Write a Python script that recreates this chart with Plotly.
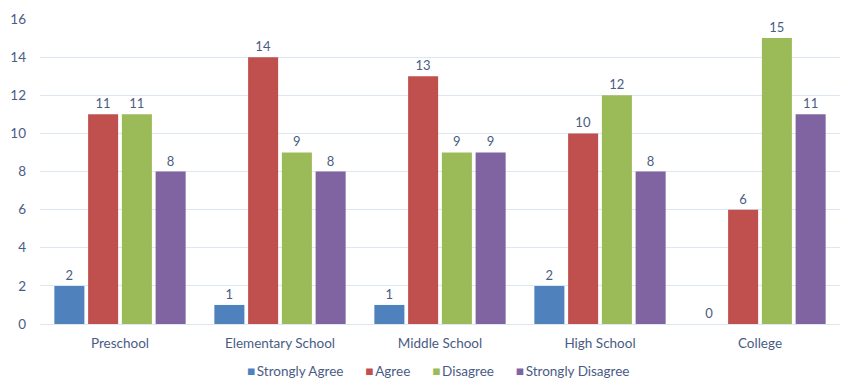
import plotly.graph_objects as go

categories = ["Preschool", "Elementary School", "Middle School", "High School", "College"]
strongly_agree = [2, 1, 1, 2, 0]
agree = [11, 14, 13, 10, 6]
disagree = [11, 9, 9, 12, 15]
strongly_disagree = [8, 8, 9, 8, 11]
y_ticks = [0, 2, 4, 6, 8, 10, 12, 14, 16]

series = [
    ("Strongly Agree", strongly_agree, "#4F81BD"),
    ("Agree", agree, "#C0504D"),
    ("Disagree", disagree, "#9BBB59"),
    ("Strongly Disagree", strongly_disagree, "#8064A2"),
]

label_color = "#4A5C84"
font_family = "Lato, 'Open Sans', sans-serif"

fig = go.Figure()
for name, vals, col in series:
    fig.add_trace(go.Bar(
        x=categories, y=vals, name=name,
        marker=dict(color=col, line=dict(width=0)),
        text=[str(v) for v in vals], textposition="outside",
        textfont=dict(color=label_color, size=13, family=font_family),
        cliponaxis=False, showlegend=False,
    ))

# legend drawn as a single centred text line (tight symbol/text spacing like the original)
legend_parts = []
for name, vals, col in series:
    legend_parts.append(f"<span style='color:{col}'>■</span>\u2009{name}")
legend_text = "\u2003\u2003\u2009".join(legend_parts)

fig.add_annotation(
    text=legend_text, xref="paper", yref="paper",
    x=0.4975, y=-47 / 305, xanchor="center", yanchor="middle",
    showarrow=False, font=dict(size=13.5, color=label_color, family=font_family),
)

fig.update_layout(
    width=841, height=381,
    margin=dict(l=40, r=1, t=19, b=57),
    paper_bgcolor="white", plot_bgcolor="white",
    barmode="group", bargap=0.156, bargroupgap=0.11,
    font=dict(family=font_family, size=13.5, color=label_color),
    showlegend=False,
    xaxis=dict(showgrid=False, showline=False, ticks="", ticklabelstandoff=9,
               tickfont=dict(size=13.5, color=label_color)),
    yaxis=dict(range=[0, 16], tickvals=y_ticks, showgrid=True, gridcolor="#DCE6F4",
               gridwidth=1, zeroline=True, zerolinecolor="#DCE6F4", zerolinewidth=1,
               showline=False, ticks="", ticklabelstandoff=13,
               tickfont=dict(size=13.5, color=label_color)),
)

fig.write_html("out.html")
